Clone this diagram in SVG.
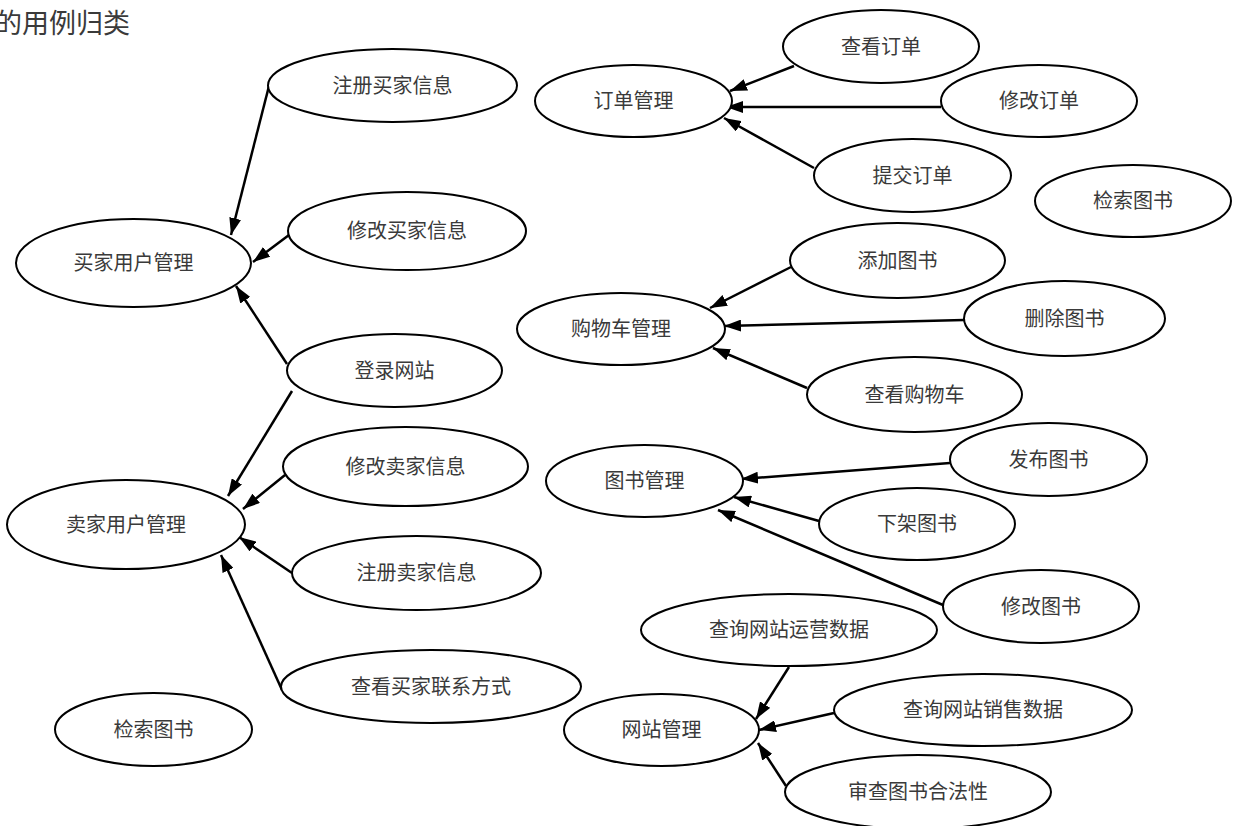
<svg xmlns="http://www.w3.org/2000/svg" width="1234" height="826" viewBox="0 0 1234 826">
<style>
.n ellipse{fill:#fff;stroke:#000;stroke-width:2}
.n text{font-family:"Noto Sans CJK SC","Liberation Sans",sans-serif;font-size:20px;fill:#3a3a3a;text-anchor:middle}
.title{font-family:"Noto Sans CJK SC","Liberation Sans",sans-serif;font-size:27px;fill:#3a3a3a}
#edges line{stroke:#000;stroke-width:2.5;marker-end:url(#ah)}
</style>
<defs>
<marker id="ah" markerUnits="userSpaceOnUse" markerWidth="18" markerHeight="12" refX="17" refY="6" orient="auto">
<path d="M0,0 L17,6 L0,12 z" fill="#000"/>
</marker>
</defs>
<rect width="1234" height="826" fill="#fff"/>
<text class="title" x="-5" y="33">的用例归类</text>
<g id="edges">
<line x1="269" y1="86" x2="231" y2="235"/>
<line x1="289" y1="235" x2="253" y2="262"/>
<line x1="287" y1="364" x2="236" y2="286"/>
<line x1="292" y1="391" x2="228" y2="496"/>
<line x1="285" y1="475" x2="243" y2="509"/>
<line x1="292" y1="573" x2="239" y2="537"/>
<line x1="282" y1="690" x2="221" y2="555"/>
<line x1="794" y1="66" x2="730" y2="91"/>
<line x1="941" y1="107" x2="726" y2="107"/>
<line x1="814" y1="168" x2="724" y2="118"/>
<line x1="791" y1="267" x2="710" y2="308"/>
<line x1="964" y1="320" x2="724" y2="326"/>
<line x1="807" y1="388" x2="713" y2="348"/>
<line x1="950" y1="463" x2="741" y2="479"/>
<line x1="819" y1="521" x2="734" y2="497"/>
<line x1="943" y1="605" x2="718" y2="510"/>
<line x1="789" y1="667" x2="756" y2="719"/>
<line x1="834" y1="713" x2="759" y2="730"/>
<line x1="786" y1="786" x2="758" y2="743"/>
</g>
<g id="n1" class="n"><ellipse cx="392.5" cy="85.5" rx="124.5" ry="36.5"/><text x="392.5" y="92.5">注册买家信息</text></g>
<g id="n2" class="n"><ellipse cx="133.5" cy="263" rx="117.5" ry="44"/><text x="133.5" y="270">买家用户管理</text></g>
<g id="n3" class="n"><ellipse cx="407" cy="231" rx="119" ry="39"/><text x="407" y="238">修改买家信息</text></g>
<g id="n4" class="n"><ellipse cx="394.5" cy="370.5" rx="107.5" ry="36.5"/><text x="394.5" y="377.5">登录网站</text></g>
<g id="n5" class="n"><ellipse cx="126" cy="524.5" rx="119" ry="44.5"/><text x="126" y="531.5">卖家用户管理</text></g>
<g id="n6" class="n"><ellipse cx="405.5" cy="466.5" rx="122.5" ry="39.5"/><text x="405.5" y="473.5">修改卖家信息</text></g>
<g id="n7" class="n"><ellipse cx="416.5" cy="573" rx="124.5" ry="37"/><text x="416.5" y="580">注册卖家信息</text></g>
<g id="n8" class="n"><ellipse cx="431" cy="686.5" rx="150" ry="36.5"/><text x="431" y="693.5">查看买家联系方式</text></g>
<g id="n9" class="n"><ellipse cx="153.5" cy="729.5" rx="98.5" ry="36.5"/><text x="153.5" y="736.5">检索图书</text></g>
<g id="n10" class="n"><ellipse cx="633.5" cy="101" rx="98.5" ry="36"/><text x="633.5" y="108">订单管理</text></g>
<g id="n11" class="n"><ellipse cx="881" cy="46.5" rx="98" ry="36.5"/><text x="881" y="53.5">查看订单</text></g>
<g id="n12" class="n"><ellipse cx="1039" cy="101" rx="98" ry="36"/><text x="1039" y="108">修改订单</text></g>
<g id="n13" class="n"><ellipse cx="912.5" cy="175.5" rx="98.5" ry="36.5"/><text x="912.5" y="182.5">提交订单</text></g>
<g id="n14" class="n"><ellipse cx="1133" cy="201" rx="98" ry="36"/><text x="1133" y="208">检索图书</text></g>
<g id="n15" class="n"><ellipse cx="897.5" cy="260.5" rx="107.5" ry="37.5"/><text x="897.5" y="267.5">添加图书</text></g>
<g id="n16" class="n"><ellipse cx="1064.5" cy="318.5" rx="100.5" ry="37.5"/><text x="1064.5" y="325.5">删除图书</text></g>
<g id="n17" class="n"><ellipse cx="621" cy="329" rx="104" ry="36"/><text x="621" y="336">购物车管理</text></g>
<g id="n18" class="n"><ellipse cx="914.5" cy="394.5" rx="107.5" ry="37.5"/><text x="914.5" y="401.5">查看购物车</text></g>
<g id="n19" class="n"><ellipse cx="644.5" cy="481" rx="98.5" ry="36"/><text x="644.5" y="488">图书管理</text></g>
<g id="n20" class="n"><ellipse cx="1048.5" cy="459.5" rx="98.5" ry="36.5"/><text x="1048.5" y="466.5">发布图书</text></g>
<g id="n21" class="n"><ellipse cx="917" cy="524" rx="98" ry="36"/><text x="917" y="531">下架图书</text></g>
<g id="n22" class="n"><ellipse cx="1041" cy="606.5" rx="98" ry="36.5"/><text x="1041" y="613.5">修改图书</text></g>
<g id="n23" class="n"><ellipse cx="789" cy="630" rx="148" ry="36"/><text x="789" y="637">查询网站运营数据</text></g>
<g id="n24" class="n"><ellipse cx="983" cy="710" rx="149" ry="36"/><text x="983" y="717">查询网站销售数据</text></g>
<g id="n25" class="n"><ellipse cx="661.5" cy="730" rx="97.5" ry="36"/><text x="661.5" y="737">网站管理</text></g>
<g id="n26" class="n"><ellipse cx="918" cy="792" rx="133" ry="37"/><text x="918" y="799">审查图书合法性</text></g>
</svg>
